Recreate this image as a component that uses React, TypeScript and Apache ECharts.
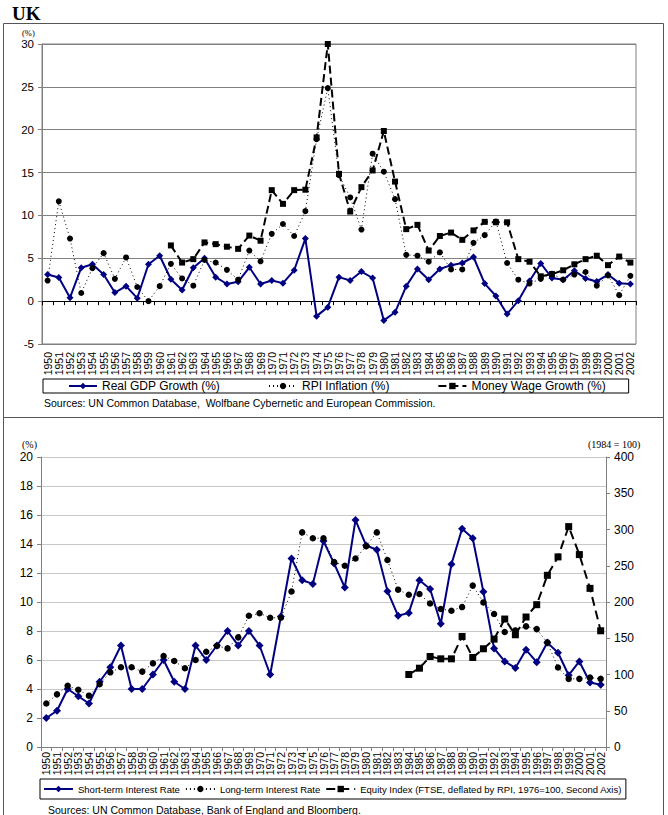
import React, { useEffect, useRef } from "react";
import * as echarts from "echarts";

// Years on both category axes
const years: string[] = [
  "1950", "1951", "1952", "1953", "1954", "1955", "1956", "1957", "1958", "1959",
  "1960", "1961", "1962", "1963", "1964", "1965", "1966", "1967", "1968", "1969",
  "1970", "1971", "1972", "1973", "1974", "1975", "1976", "1977", "1978", "1979",
  "1980", "1981", "1982", "1983", "1984", "1985", "1986", "1987", "1988", "1989",
  "1990", "1991", "1992", "1993", "1994", "1995", "1996", "1997", "1998", "1999",
  "2000", "2001", "2002",
];

// Upper panel (%)
const realGdpGrowth: (number | null)[] = [
  3.1, 2.75, 0.4, 3.9, 4.3, 3.1, 1.0, 1.75, 0.35, 4.3,
  5.3, 2.55, 1.3, 3.9, 5.0, 2.8, 2.0, 2.25, 3.95, 2.0,
  2.4, 2.1, 3.6, 7.3, -1.75, -0.7, 2.8, 2.4, 3.45, 2.7,
  -2.25, -1.3, 1.75, 3.75, 2.5, 3.75, 4.2, 4.45, 5.15, 2.05,
  0.6, -1.5, 0.05, 2.35, 4.4, 2.7, 2.5, 3.55, 2.65, 2.3,
  3.1, 2.1, 2.0,
];

const rpiInflation: (number | null)[] = [
  2.4, 11.65, 7.3, 0.95, 3.85, 5.6, 2.6, 5.1, 1.65, 0.0,
  1.75, 4.35, 2.65, 1.8, 4.8, 4.5, 3.65, 2.5, 5.9, 4.65,
  7.85, 9.0, 7.6, 10.5, 18.9, 24.85, 14.7, 12.1, 8.35, 17.2,
  15.1, 11.9, 5.4, 5.3, 4.6, 5.7, 3.7, 3.7, 6.8, 7.7,
  9.3, 4.45, 2.5, 2.05, 2.6, 3.2, 2.5, 3.1, 3.4, 1.8,
  3.0, 0.7, 2.95,
];

const moneyWageGrowth: (number | null)[] = [
  null, null, null, null, null, null, null, null, null, null,
  null, 6.5, 4.5, 4.9, 6.85, 6.65, 6.35, 6.1, 7.65, 7.05,
  12.95, 11.35, 12.95, 13.0, 19.1, 30.0, 14.85, 10.45, 13.3, 15.25,
  19.85, 13.95, 8.4, 8.9, 5.9, 7.6, 8.0, 7.15, 8.25, 9.25,
  9.2, 9.2, 4.9, 4.6, 2.9, 3.15, 3.6, 4.3, 4.9, 5.3,
  4.2, 5.2, 4.5,
];

// Lower panel: interest rates (%) and equity index (second axis)
const shortTermRate: (number | null)[] = [
  2.0, 2.5, 4.0, 3.5, 3.0, 4.5, 5.5, 7.0, 4.0, 4.0,
  5.0, 6.0, 4.5, 4.0, 7.0, 6.0, 7.0, 8.0, 7.0, 8.0,
  7.0, 5.0, 9.0, 13.0, 11.5, 11.25, 14.2, 12.65, 11.0, 15.65,
  13.9, 13.6, 10.75, 9.05, 9.25, 11.5, 10.9, 8.5, 12.6, 15.05,
  14.4, 10.7, 6.8, 5.9, 5.45, 6.7, 5.85, 7.2, 6.5, 4.95,
  5.9, 4.45, 4.3,
];

const longTermRate: (number | null)[] = [
  3.0, 3.63, 4.22, 3.95, 3.54, 4.33, 5.15, 5.5, 5.5, 5.2,
  5.77, 6.28, 5.93, 5.43, 6.0, 6.57, 6.97, 6.8, 7.56, 9.05,
  9.22, 8.91, 8.91, 10.72, 14.8, 14.4, 14.4, 12.75, 12.5, 13.0,
  13.85, 14.8, 12.9, 10.85, 10.5, 10.55, 9.9, 9.52, 9.4, 9.65,
  11.13, 9.97, 9.17, 7.93, 8.04, 8.32, 8.13, 7.2, 5.48, 4.7,
  4.7, 4.79, 4.7,
];

const equityIndex: (number | null)[] = [
  null, null, null, null, null, null, null, null, null, null,
  null, null, null, null, null, null, null, null, null, null,
  null, null, null, null, null, null, null, null, null, null,
  null, null, null, null, 100, 108.7, 124.8, 121.6, 121.6, 152.5,
  123.5, 135.5, 148.8, 176.5, 154.8, 179.3, 196.3, 236.8, 262.2, 304,
  265.4, 218.8, 160.3,
];

const topLegend = ["Real GDP Growth (%)", "RPI Inflation (%)", "Money Wage Growth (%)"];
const bottomLegend = [
  "Short-term Interest Rate",
  "Long-term Interest Rate",
  "Equity Index (FTSE, deflated by RPI, 1976=100, Second Axis)",
];

const SANS = "'Liberation Sans', Arial, sans-serif";
const SERIF = "'Liberation Serif', 'Times New Roman', serif";
const NAVY = "#000080";

export default function App() {
  const ref = useRef<HTMLDivElement>(null);

  useEffect(() => {
    if (!ref.current) return;
    const chart = echarts.init(ref.current, undefined, { renderer: "svg" });

    const yearLabels = {
      rotate: 90,
      interval: 0,
      fontSize: 10.5,
      fontFamily: SANS,
      color: "#000",
    };

    chart.setOption({
      animation: false,
      backgroundColor: "#fff",
      textStyle: { fontFamily: SANS },
      grid: [
        {
          left: 42, top: 44, width: 594, height: 300,
          show: true, borderColor: "#808080", borderWidth: 1,
        },
        { left: 41, top: 457, width: 565, height: 290 },
      ],
      xAxis: [
        {
          type: "category", gridIndex: 0, data: years, position: "bottom",
          axisLine: { show: false, onZero: false },
          axisTick: { show: false },
          axisLabel: { ...yearLabels, margin: 8 },
        },
        {
          type: "category", gridIndex: 0, data: years, position: "top",
          axisLine: { show: true, onZero: true, lineStyle: { color: "#000", width: 1 } },
          axisTick: { show: true, inside: true, length: 4, interval: 0, lineStyle: { color: "#000" } },
          axisLabel: { show: false },
        },
        {
          type: "category", gridIndex: 1, data: years, position: "bottom",
          axisLine: { show: true, lineStyle: { color: "#808080" } },
          axisTick: { show: true, length: 4, interval: 0, lineStyle: { color: "#808080" } },
          axisLabel: { ...yearLabels, margin: 5 },
        },
      ],
      yAxis: [
        {
          type: "value", gridIndex: 0, min: -5, max: 30, interval: 5,
          axisLine: { show: true, lineStyle: { color: "#808080" } },
          axisTick: { show: true, length: 4, lineStyle: { color: "#808080" } },
          axisLabel: { fontSize: 11.5, fontFamily: SANS, color: "#000", margin: 8 },
          splitLine: { show: true, lineStyle: { color: "#808080", width: 1 } },
        },
        {
          type: "value", gridIndex: 1, position: "left", min: 0, max: 20, interval: 2,
          axisLine: { show: true, lineStyle: { color: "#808080" } },
          axisTick: { show: true, length: 4, lineStyle: { color: "#808080" } },
          axisLabel: { fontSize: 12, fontFamily: SANS, color: "#000", margin: 8 },
          splitLine: { show: true, lineStyle: { color: "#c8c8c8", width: 1 } },
        },
        {
          type: "value", gridIndex: 1, position: "right", min: 0, max: 400, interval: 50,
          axisLine: { show: true, lineStyle: { color: "#808080" } },
          axisTick: { show: true, length: 4, lineStyle: { color: "#808080" } },
          axisLabel: { fontSize: 12, fontFamily: SANS, color: "#000", margin: 8 },
          splitLine: { show: false },
        },
      ],
      legend: [
        {
          data: topLegend,
          left: 43, top: 379,
          orient: "horizontal",
          padding: [1, 23, 1, 25],
          itemGap: 48,
          itemWidth: 28,
          itemHeight: 8,
          borderColor: "#000",
          borderWidth: 1,
          selectedMode: false,
          textStyle: { fontSize: 12, fontFamily: SANS, color: "#000" },
        },
        {
          data: bottomLegend,
          left: 40, top: 779,
          orient: "horizontal",
          padding: [5, 4, 5, 3],
          itemGap: 5,
          itemWidth: 29,
          itemHeight: 8,
          borderColor: "#000",
          borderWidth: 1,
          selectedMode: false,
          textStyle: { fontSize: 9.5, fontFamily: SANS, color: "#000" },
        },
      ],
      series: [
        {
          name: topLegend[0], type: "line", xAxisIndex: 0, yAxisIndex: 0,
          data: realGdpGrowth,
          color: NAVY,
          lineStyle: { color: NAVY, width: 2 },
          itemStyle: { color: NAVY },
          symbol: "diamond", symbolSize: 7, showAllSymbol: true,
        },
        {
          name: topLegend[1], type: "line", xAxisIndex: 0, yAxisIndex: 0,
          data: rpiInflation,
          color: "#000",
          lineStyle: { color: "#000", width: 1, type: [1, 3] },
          itemStyle: { color: "#000" },
          symbol: "circle", symbolSize: 6, showAllSymbol: true,
        },
        {
          name: topLegend[2], type: "line", xAxisIndex: 0, yAxisIndex: 0,
          data: moneyWageGrowth,
          color: "#000",
          lineStyle: { color: "#000", width: 2, type: [8, 4] },
          itemStyle: { color: "#000" },
          symbol: "rect", symbolSize: 6, showAllSymbol: true,
        },
        {
          name: bottomLegend[0], type: "line", xAxisIndex: 2, yAxisIndex: 1,
          data: shortTermRate,
          color: NAVY,
          lineStyle: { color: NAVY, width: 2 },
          itemStyle: { color: NAVY },
          symbol: "diamond", symbolSize: 8, showAllSymbol: true,
        },
        {
          name: bottomLegend[1], type: "line", xAxisIndex: 2, yAxisIndex: 1,
          data: longTermRate,
          color: "#000",
          lineStyle: { color: "#000", width: 1, type: [1, 3] },
          itemStyle: { color: "#000" },
          symbol: "circle", symbolSize: 6.5, showAllSymbol: true,
        },
        {
          name: bottomLegend[2], type: "line", xAxisIndex: 2, yAxisIndex: 2,
          data: equityIndex,
          color: "#000",
          lineStyle: { color: "#000", width: 2, type: [9, 5] },
          itemStyle: { color: "#000" },
          symbol: "rect", symbolSize: 7, showAllSymbol: true,
        },
      ],
      graphic: [
        {
          type: "rect", silent: true, z: -1,
          shape: { x: 3.5, y: 23.5, width: 660, height: 394 },
          style: { fill: "none", stroke: "#555", lineWidth: 1 },
        },
        {
          type: "rect", silent: true, z: -1,
          shape: { x: 3.5, y: 417.5, width: 660, height: 420 },
          style: { fill: "none", stroke: "#555", lineWidth: 1 },
        },
        {
          type: "text", x: 12, y: 13,
          style: {
            text: "UK", fontSize: 19, fontWeight: "bold", fontFamily: SERIF,
            fill: "#000", verticalAlign: "middle", align: "left",
          },
        },
        {
          type: "text", x: 22, y: 33,
          style: {
            text: "(%)", fontSize: 8.5, fontFamily: SERIF,
            fill: "#000", verticalAlign: "middle", align: "left",
          },
        },
        {
          type: "text", x: 44, y: 403,
          style: {
            text: "Sources: UN Common Database,  Wolfbane Cybernetic and European Commission.",
            fontSize: 10.5, fontFamily: SANS,
            fill: "#000", verticalAlign: "middle", align: "left",
          },
        },
        {
          type: "text", x: 22, y: 444,
          style: {
            text: "(%)", fontSize: 10, fontFamily: SERIF,
            fill: "#000", verticalAlign: "middle", align: "left",
          },
        },
        {
          type: "text", x: 588, y: 444,
          style: {
            text: "(1984 = 100)", fontSize: 10, fontFamily: SERIF,
            fill: "#000", verticalAlign: "middle", align: "left",
          },
        },
        {
          type: "text", x: 48, y: 810,
          style: {
            text: "Sources: UN Common Database, Bank of England and Bloomberg.",
            fontSize: 10.5, fontFamily: SANS,
            fill: "#000", verticalAlign: "middle", align: "left",
          },
        },
      ],
    });

    return () => chart.dispose();
  }, []);

  return (
    <div
      ref={ref}
      style={{ position: "absolute", left: 0, top: 0, width: 668, height: 815, background: "#fff" }}
    />
  );
}
